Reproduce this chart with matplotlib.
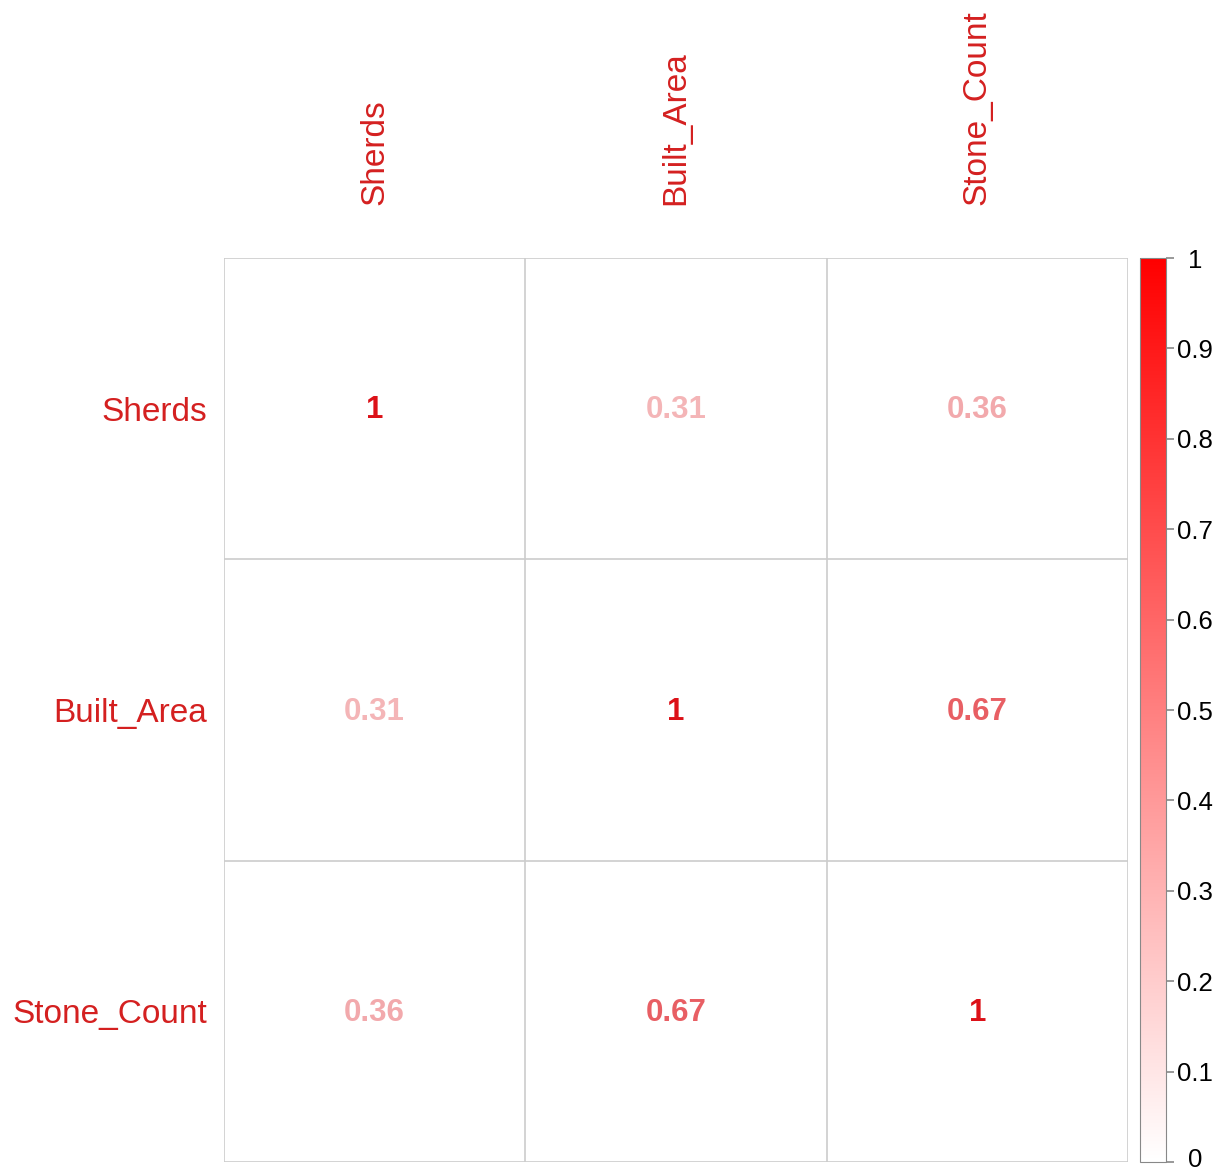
import numpy as np
import matplotlib
matplotlib.use("Agg")
import matplotlib.pyplot as plt
from matplotlib.colors import LinearSegmentedColormap, Normalize
from matplotlib.colorbar import ColorbarBase
from matplotlib.transforms import ScaledTranslation

plt.rcParams["font.family"] = ["Liberation Sans", "DejaVu Sans"]

variables = ["Sherds", "Built_Area", "Stone_Count"]
corr = [
    [1.00, 0.31, 0.36],
    [0.31, 1.00, 0.67],
    [0.36, 0.67, 1.00],
]
cbar_ticks = [0, 0.1, 0.2, 0.3, 0.4, 0.5, 0.6, 0.7, 0.8, 0.9, 1]

label_col = "#d42020"
cmap = LinearSegmentedColormap.from_list("wr", ["#ffffff", "#ff0000"])
text_cmap = LinearSegmentedColormap.from_list("wr_txt", ["#ffffff", "#dc1118"])
norm = Normalize(0, 1)

fig = plt.figure(figsize=(12.26, 11.73), dpi=100)
ax = fig.add_axes([224 / 1226, 1 - 1162 / 1173, 904 / 1226, 904 / 1173])

n = len(variables)
ax.set_xlim(0, n)
ax.set_ylim(n, 0)
for k in range(n + 1):
    ax.axhline(k, color="#cccccc", lw=1.2)
    ax.axvline(k, color="#cccccc", lw=1.2)

for i in range(n):
    for j in range(n):
        v = corr[i][j]
        txt = "1" if v == 1 else f"{v:.2f}"
        ax.text(j + 0.5, i + 0.5 + 0.005, txt, ha="center", va="center",
                fontsize=22.5, fontweight="bold", color=text_cmap(norm(v)))

ax.set_xticks(np.arange(n) + 0.5)
ax.set_yticks(np.arange(n) + 0.5)
ax.set_xticklabels(variables, rotation=90, fontsize=24, color=label_col)
ax.set_yticklabels(variables, fontsize=24, color=label_col)
ax.xaxis.tick_top()
ax.tick_params(length=0, pad=38, axis="x")
ax.tick_params(length=0, pad=12, axis="y")
for s in ax.spines.values():
    s.set_visible(False)

cax = fig.add_axes([1140 / 1226, 1 - 1162 / 1173, 26 / 1226, 904 / 1173])
cb = ColorbarBase(cax, cmap=cmap, norm=norm, ticks=cbar_ticks)
cb.outline.set_edgecolor("#888888")
cb.ax.set_yticklabels([f"{t:g}" for t in cbar_ticks], ha="center")
cb.ax.tick_params(labelsize=18.5, length=6, color="#888888", width=1.2, pad=15)

# lift the bottom "0" label a touch so it stays inside the canvas
zero_lbl = cb.ax.yaxis.get_majorticklabels()[0]
zero_lbl.set_transform(zero_lbl.get_transform()
                       + ScaledTranslation(0, 3 / 72, fig.dpi_scale_trans))

fig.savefig("out.png", dpi=100)
